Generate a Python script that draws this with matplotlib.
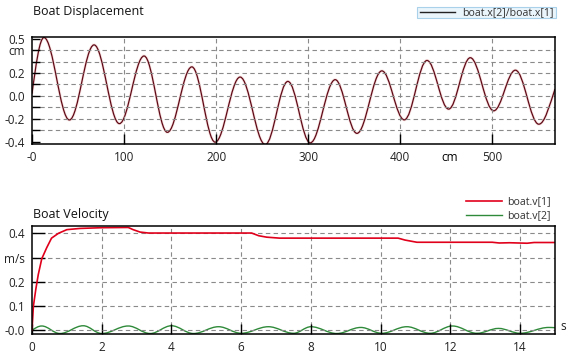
import matplotlib
matplotlib.use("Agg")
import matplotlib.pyplot as plt
from matplotlib.path import Path
from matplotlib.patches import PathPatch
from matplotlib.lines import Line2D

plt.rcParams['font.family'] = ['Open Sans', 'DejaVu Sans']
plt.rcParams['font.size'] = 8.5

# boat.x[2] vs boat.x[1] (peaks / troughs)
disp_x = [0, 13, 40.6, 67.4, 94.9, 121.7, 147, 173.6, 198.9, 226, 253.3, 277.9,
          302.2, 329.3, 352.9, 380, 404.3, 429, 452.5, 476, 501.4, 525, 550.4, 568]
disp_y = [0.02, 0.51, -0.21, 0.446, -0.242, 0.349, -0.318, 0.254, -0.404, 0.165,
          -0.425, 0.127, -0.41, 0.142, -0.327, 0.219, -0.209, 0.31, -0.115, 0.334,
          -0.13, 0.225, -0.247, 0.06]

# boat.v[1]
vel1_t = [0, 0.04, 0.11, 0.18, 0.28, 0.42, 0.56, 0.76, 1.0, 1.38, 2.0, 2.76, 2.9,
          3.1, 3.34, 6.3, 6.5, 6.73, 7.1, 10.5, 10.7, 11.04, 13.2, 13.4, 13.7,
          14.2, 14.4, 15.0]
vel1_v = [0, 0.10, 0.17, 0.23, 0.295, 0.34, 0.38, 0.40, 0.415, 0.42, 0.423, 0.424,
          0.415, 0.405, 0.401, 0.401, 0.39, 0.384, 0.38, 0.38, 0.372, 0.363, 0.363,
          0.36, 0.361, 0.359, 0.362, 0.362]

# boat.v[2] (peaks / troughs)
vel2_t = [0, 0.28, 0.80, 1.47, 2.0, 2.76, 3.39, 4.0, 4.63, 5.35, 6.0, 6.78, 7.5,
          8.0, 8.74, 9.43, 10.03, 10.75, 11.42, 12.06, 12.76, 13.38, 14.0, 14.82, 15.0]
vel2_v = [0, 0.018, -0.013, 0.019, -0.013, 0.018, -0.013, 0.019, -0.013, 0.015,
          -0.012, 0.015, -0.012, 0.015, -0.013, 0.012, -0.012, 0.015, -0.012, 0.018,
          -0.012, 0.008, -0.012, 0.012, 0.011]

disp_xticks = [0, 100, 200, 300, 400, 500]
disp_xlabels = ['-0', '100', '200', '300', '400', '500']
disp_yticks = [-0.4, -0.3, -0.2, -0.1, 0.0, 0.1, 0.2, 0.3, 0.4, 0.5]
disp_ylabels = ['-0.4', '', '-0.2', '', '0.0', '', '0.2', '', 'cm', '0.5']
vel_xticks = [0, 2, 4, 6, 8, 10, 12, 14]
vel_yticks = [0.0, 0.1, 0.2, 0.3, 0.4]
vel_ylabels = ['-0.0', '0.1', '0.2', 'm/s', '0.4']

DISP_COLOR = '#5e0a16'
V1_COLOR = '#e0001b'
V2_COLOR = '#2f8a3a'
LEG_SIZE = 7.6


def smooth_path(xs, ys):
    # cubic segments between extrema, flat tangent at each peak/trough
    verts = [(xs[0], ys[0])]
    codes = [Path.MOVETO]
    n = len(xs)
    for i in range(n - 1):
        x0, y0, x1, y1 = xs[i], ys[i], xs[i + 1], ys[i + 1]
        dx, dy = x1 - x0, y1 - y0
        if i == 0:
            c1 = (x0 + dx * 0.333, y0 + dy * 0.52)
        else:
            c1 = (x0 + dx * 0.364, y0)
        if i == n - 2:
            c2 = (x1 - dx * 0.333, y1 - dy * 0.45)
        else:
            c2 = (x1 - dx * 0.364, y1)
        verts += [c1, c2, (x1, y1)]
        codes += [Path.CURVE4] * 3
    return Path(verts, codes)


def style_axes(ax):
    ax.tick_params(direction='in', length=7, width=1, colors='black',
                   labelcolor='#222222', pad=5)
    ax.grid(True, linestyle=(0, (4, 3)), color='#8a8a8a', linewidth=0.8)
    for s in ax.spines.values():
        s.set_linewidth(1.1)
        s.set_color('black')


fig = plt.figure(figsize=(5.71, 3.54), dpi=100)

# --- displacement ---
ax1 = fig.add_axes([32 / 571, 1 - 144 / 354, 523 / 571, 107 / 354])
ax1.add_patch(PathPatch(smooth_path(disp_x, disp_y), fill=False,
                        edgecolor='#f8e0e0', lw=2.0))
ax1.add_patch(PathPatch(smooth_path(disp_x, disp_y), fill=False,
                        edgecolor=DISP_COLOR, lw=0.9))
ax1.set_xlim(0, 568)
ax1.set_ylim(-0.42, 0.515)
ax1.set_xticks(disp_xticks)
ax1.set_xticklabels(disp_xlabels)
ax1.set_xticks([454], minor=True)
ax1.set_xticklabels(['cm'], minor=True)
ax1.set_yticks(disp_yticks)
ax1.set_yticklabels(disp_ylabels)
style_axes(ax1)
ax1.tick_params(axis='x', which='minor', length=0, pad=5)
ax1.tick_params(axis='y', length=6)
# no dashed line at the edges
ax1.xaxis.get_gridlines()[0].set_visible(False)
ax1.yaxis.get_gridlines()[0].set_visible(False)
ax1.yaxis.get_gridlines()[-1].set_visible(False)

# --- velocity ---
ax2 = fig.add_axes([32 / 571, 1 - 334 / 354, 523 / 571, 108 / 354])
ax2.plot(vel1_t, vel1_v, color=V1_COLOR, lw=1.2)
ax2.add_patch(PathPatch(smooth_path(vel2_t, vel2_v), fill=False,
                        edgecolor=V2_COLOR, lw=1.0))
ax2.set_xlim(0, 15)
ax2.set_ylim(-0.015, 0.43)
ax2.set_xticks(vel_xticks)
ax2.set_yticks(vel_yticks)
ax2.set_yticklabels(vel_ylabels)
style_axes(ax2)
ax2.tick_params(axis='y', length=9)
ax2.xaxis.get_gridlines()[0].set_visible(False)
ax2.text(1.015, 0.068, 's', transform=ax2.transAxes, ha='center', va='center',
         color='#222222')

# titles
fig.text(33 / 571, 1 - 15 / 354, 'Boat Displacement', fontsize=9, va='baseline',
         color='#111111')
fig.text(33 / 571, 1 - 218 / 354, 'Boat Velocity', fontsize=9, va='baseline',
         color='#111111')

# legend, top panel
box = plt.Rectangle((417 / 571, 1 - 17.5 / 354), 139 / 571, 10.5 / 354,
                    transform=fig.transFigure, facecolor='#eaf4fb',
                    edgecolor='#a9d1ea', lw=0.8)
fig.add_artist(box)
fig.add_artist(Line2D([420 / 571, 455 / 571], [1 - 12.3 / 354] * 2,
                      transform=fig.transFigure, color='#222222', lw=1.0))
fig.text(462 / 571, 1 - 15.5 / 354, 'boat.x[2]/boat.x[1]', va='baseline',
         fontsize=LEG_SIZE, color='#333333')

# legend, bottom panel
fig.add_artist(Line2D([466 / 571, 502 / 571], [1 - 201 / 354] * 2,
                      transform=fig.transFigure, color=V1_COLOR, lw=1.2))
fig.text(507 / 571, 1 - 204.5 / 354, 'boat.v[1]', va='baseline',
         fontsize=LEG_SIZE, color='#333333')
fig.add_artist(Line2D([466 / 571, 502 / 571], [1 - 215 / 354] * 2,
                      transform=fig.transFigure, color=V2_COLOR, lw=1.0))
fig.text(507 / 571, 1 - 218.5 / 354, 'boat.v[2]', va='baseline',
         fontsize=LEG_SIZE, color='#333333')

fig.savefig('out.png', dpi=100)
